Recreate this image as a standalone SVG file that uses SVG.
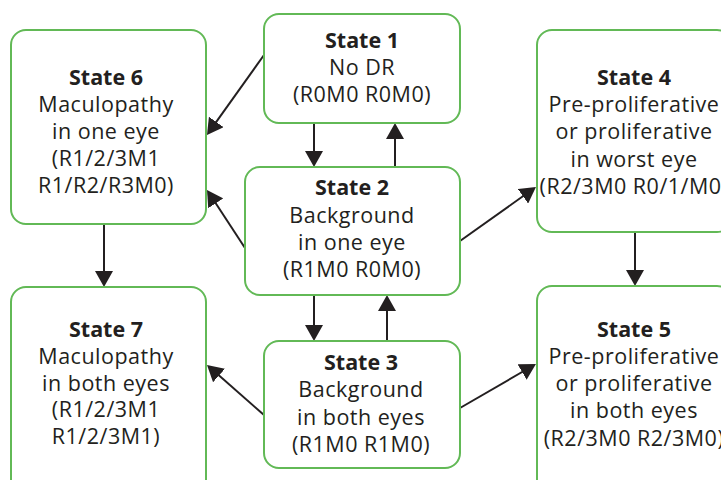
<svg xmlns="http://www.w3.org/2000/svg" width="721" height="480" viewBox="0 0 721 480">
  <style>
    .box { fill: #ffffff; stroke: #62b956; stroke-width: 2; }
    .edge { fill: none; stroke: #231f20; stroke-width: 2; }
    text { font-family: "Open Sans", "Noto Sans", "Liberation Sans", sans-serif; font-size: 21.5px; fill: #231f20; text-anchor: middle; letter-spacing: 0.5px; }
    .title { font-weight: bold; letter-spacing: 0; }
  </style>
  <defs>
    <marker id="arrow" viewBox="0 0 16 18" refX="12" refY="9" markerWidth="16" markerHeight="18" markerUnits="userSpaceOnUse" orient="auto">
      <path d="M0,0 L16,9 L0,18 z" fill="#231f20"/>
    </marker>
  </defs>
  <rect width="721" height="480" fill="#ffffff"/>

  <g id="connectors">
    <!-- vertical transitions -->
    <line class="edge" x1="314" y1="123" x2="314" y2="163" marker-end="url(#arrow)"/>
    <line class="edge" x1="395" y1="167" x2="395" y2="127" marker-end="url(#arrow)"/>
    <line class="edge" x1="314" y1="295" x2="314" y2="337" marker-end="url(#arrow)"/>
    <line class="edge" x1="387" y1="341" x2="387" y2="299" marker-end="url(#arrow)"/>
    <line class="edge" x1="104" y1="224" x2="104" y2="283" marker-end="url(#arrow)"/>
    <line class="edge" x1="635" y1="232" x2="635" y2="282" marker-end="url(#arrow)"/>
    <!-- diagonal transitions -->
    <line class="edge" x1="264" y1="55" x2="209.3" y2="131.7" marker-end="url(#arrow)"/>
    <line class="edge" x1="245" y1="248" x2="209.2" y2="193.3" marker-end="url(#arrow)"/>
    <line class="edge" x1="460" y1="241" x2="532.7" y2="189.3" marker-end="url(#arrow)"/>
    <line class="edge" x1="264" y1="415" x2="210" y2="367.6" marker-end="url(#arrow)"/>
    <line class="edge" x1="460" y1="408" x2="532.5" y2="366" marker-end="url(#arrow)"/>
  </g>

  <g id="state1">
    <rect class="box" x="264" y="14" width="196" height="109" rx="15"/>
    <text x="362" y="48" class="title">State 1</text>
    <text x="362" y="75">No DR</text>
    <text x="362" y="102">(R0M0 R0M0)</text>
  </g>

  <g id="state2">
    <rect class="box" x="245" y="167" width="215" height="128" rx="15"/>
    <text x="352" y="195" class="title">State 2</text>
    <text x="352" y="223">Background</text>
    <text x="352" y="250">in one eye</text>
    <text x="352" y="277">(R1M0 R0M0)</text>
  </g>

  <g id="state3">
    <rect class="box" x="264" y="341" width="196" height="127" rx="15"/>
    <text x="361" y="370" class="title">State 3</text>
    <text x="361" y="397">Background</text>
    <text x="361" y="425">in both eyes</text>
    <text x="361" y="452">(R1M0 R1M0)</text>
  </g>

  <g id="state4">
    <rect class="box" x="537" y="30" width="195" height="202" rx="15"/>
    <text x="634" y="85" class="title">State 4</text>
    <text x="634" y="112">Pre-proliferative</text>
    <text x="634" y="139">or proliferative</text>
    <text x="634" y="167">in worst eye</text>
    <text x="634" y="194">(R2/3M0 R0/1/M0)</text>
  </g>

  <g id="state5">
    <rect class="box" x="537" y="286" width="195" height="210" rx="15"/>
    <text x="634" y="337" class="title">State 5</text>
    <text x="634" y="364">Pre-proliferative</text>
    <text x="634" y="391">or proliferative</text>
    <text x="634" y="418">in both eyes</text>
    <text x="634" y="446">(R2/3M0 R2/3M0)</text>
  </g>

  <g id="state6">
    <rect class="box" x="11" y="30" width="195" height="194" rx="15"/>
    <text x="106" y="85" class="title">State 6</text>
    <text x="106" y="112">Maculopathy</text>
    <text x="106" y="139">in one eye</text>
    <text x="106" y="166">(R1/2/3M1</text>
    <text x="106" y="193">R1/R2/R3M0)</text>
  </g>

  <g id="state7">
    <rect class="box" x="11" y="287" width="195" height="210" rx="15"/>
    <text x="106" y="337" class="title">State 7</text>
    <text x="106" y="364">Maculopathy</text>
    <text x="106" y="391">in both eyes</text>
    <text x="106" y="417">(R1/2/3M1</text>
    <text x="106" y="444">R1/2/3M1)</text>
  </g>
</svg>
